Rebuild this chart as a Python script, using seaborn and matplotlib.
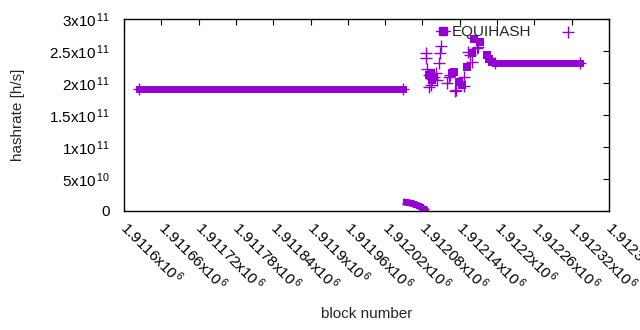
import numpy as np
import pandas as pd
import seaborn as sns
import matplotlib.pyplot as plt
from matplotlib.lines import Line2D

sns.set_style('white')
plt.rcParams['font.family'] = ['Liberation Sans', 'DejaVu Sans']
plt.rcParams['mathtext.fontset'] = 'custom'
plt.rcParams['mathtext.rm'] = 'Liberation Sans'
plt.rcParams['mathtext.it'] = 'Liberation Sans'
plt.rcParams['font.size'] = 11

color = '#9400d3'

# flat stretches of the hashrate (first block, last block, value)
plateau_start = [1911624, 1912197]
plateau_end = [1912049, 1912333]
plateau_value = [1.908e11, 2.32e11]

# the short drop to almost zero right after the first stretch
dip_block = [1912054, 1912058, 1912062, 1912066, 1912070, 1912074, 1912078, 1912082, 1912084]
dip_value = [1.35e10, 1.3e10, 1.2e10, 1.1e10, 9.5e9, 8e9, 5.5e9, 3e9, 1.5e9]

# scattered blocks drawn with crosses
cross_block = [1912110, 1912086, 1912109, 1912085, 1912106, 1912088, 1912101, 1912104,
               1912093, 1912091, 1912122, 1912120, 1912133, 1912147, 1912154, 1912160,
               1912170, 1912314, 1912134, 1912146, 1912125, 1912096, 1912157, 1912168,
               1912090, 1912099]
cross_value = [2.576e11, 2.466e11, 2.466e11, 2.387e11, 2.309e11, 2.215e11, 2.152e11, 2.042e11,
               1.963e11, 1.932e11, 2.089e11, 1.995e11, 1.869e11, 2.089e11, 2.482e11, 2.325e11,
               2.560e11, 2.796e11, 1.885e11, 1.948e11, 2.120e11, 2.058e11, 2.435e11, 2.545e11,
               2.120e11, 2.10e11]

# scattered blocks drawn with filled squares
square_block = [1912093, 1912098, 1912096, 1912090, 1912130, 1912127, 1912138, 1912144,
                1912151, 1912159, 1912163, 1912173, 1912183, 1912187, 1912192]
square_value = [2.152e11, 2.089e11, 2.042e11, 2.12e11, 2.168e11, 2.15e11, 2.010e11, 1.963e11,
                2.246e11, 2.466e11, 2.686e11, 2.639e11, 2.435e11, 2.372e11, 2.33e11]

x_ticks = [1911600, 1911660, 1911720, 1911780, 1911840, 1911900, 1911960, 1912020,
           1912080, 1912140, 1912200, 1912260, 1912320, 1912380]
x_mant = ['1.9116', '1.91166', '1.91172', '1.91178', '1.91184', '1.9119', '1.91196',
          '1.91202', '1.91208', '1.91214', '1.9122', '1.91226', '1.91232', '1.91238']
y_ticks = [0, 5e10, 1e11, 1.5e11, 2e11, 2.5e11, 3e11]
y_labels = ['0', r'5x10$^{\,10}$', r'1x10$^{\,11}$', r'1.5x10$^{\,11}$', r'2x10$^{\,11}$',
            r'2.5x10$^{\,11}$', r'3x10$^{\,11}$']

fig = plt.figure(figsize=(6.4, 3.3), dpi=100)
ax = fig.add_axes([124 / 640, 1 - 211 / 330, 485 / 640, 192 / 330])

for s, e, v in zip(plateau_start, plateau_end, plateau_value):
    seg = pd.DataFrame({'block': [s, e], 'rate': [v, v]})
    sns.lineplot(data=seg, x='block', y='rate', ax=ax, color=color, lw=5,
                 solid_capstyle='projecting')
    ax.plot(seg['block'], seg['rate'], ls='none', marker='+', ms=9, mew=1, color=color)

dip = pd.DataFrame({'block': dip_block, 'rate': dip_value})
sns.lineplot(data=dip, x='block', y='rate', ax=ax, color=color, lw=5,
             solid_capstyle='projecting')
sns.scatterplot(data=dip, x='block', y='rate', ax=ax, color=color, marker='s',
                s=25, linewidth=0)

sq = pd.DataFrame({'block': square_block, 'rate': square_value})
sns.scatterplot(data=sq, x='block', y='rate', ax=ax, color=color, marker='s',
                s=28, linewidth=0)
cr = pd.DataFrame({'block': cross_block, 'rate': cross_value})
ax.plot(cr['block'], cr['rate'], ls='none', marker='+', ms=9, mew=1, color=color)

ax.set_xlim(1911600, 1912380)
ax.set_ylim(0, 3e11)
ax.set_xticks(x_ticks)
ax.set_xticklabels([m + r'x10$^{\,6}$' for m in x_mant], rotation=-45, ha='left',
                   va='center', rotation_mode='anchor')
ax.set_yticks(y_ticks)
ax.set_yticklabels(y_labels)
ax.tick_params(direction='in', length=4, width=0.8, top=True, right=True,
               colors='black', labelsize=11)
ax.tick_params(axis='x', pad=10)
ax.tick_params(axis='y', pad=10)
for sp in ax.spines.values():
    sp.set_color('black')
    sp.set_linewidth(1)

ax.set_xlabel('block number', fontsize=11)
ax.set_ylabel('hashrate [h/s]', fontsize=11)
ax.xaxis.set_label_coords(0.5, -0.5)
ax.yaxis.set_label_coords(-0.205, 0.5)

leg = ax.legend([Line2D([], [], color=color, lw=1, marker='s', markersize=6)],
                ['EQUIHASH'], frameon=False, loc='center left',
                bbox_to_anchor=(436 / 640, 1 - 32 / 330), bbox_transform=fig.transFigure,
                handlelength=0.9, handletextpad=0.15, borderpad=0, borderaxespad=0,
                fontsize=11)

fig.savefig('out.png', dpi=100)
